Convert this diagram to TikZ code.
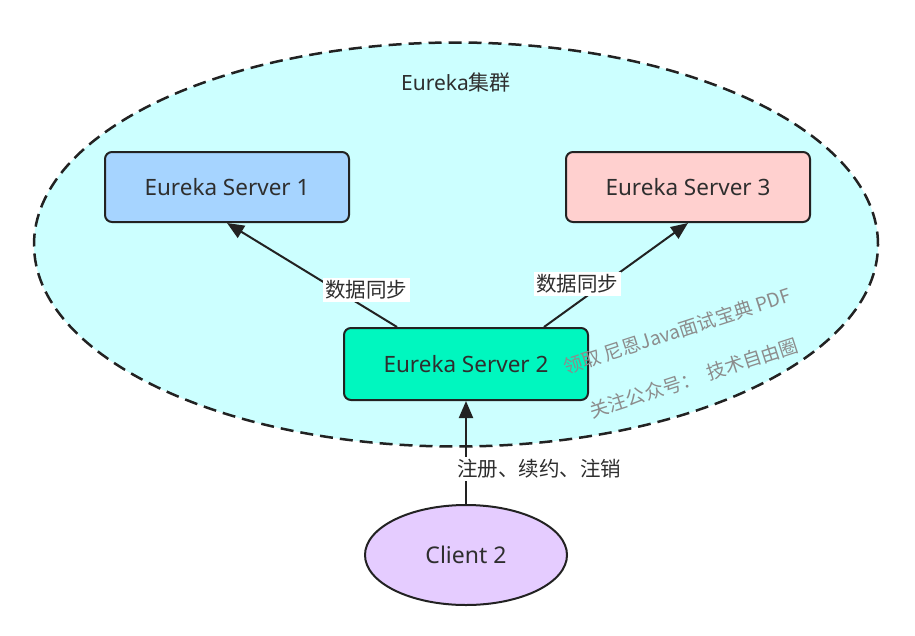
\documentclass[tikz,border=0pt]{standalone}
\usepackage{fontspec}
\setmainfont{Noto Sans}
\newfontfamily\cjk{Noto Sans CJK SC}
\usetikzlibrary{shapes.geometric,arrows.meta}
\definecolor{clusterfill}{HTML}{CCFFFF}
\definecolor{sone}{HTML}{A6D4FF}
\definecolor{sthree}{HTML}{FFD0CF}
\definecolor{stwo}{HTML}{00F7BF}
\definecolor{clientfill}{HTML}{E5CCFF}
\definecolor{ink}{HTML}{2E2E2E}
\definecolor{edge}{HTML}{222222}
\definecolor{wm}{HTML}{8C8C8C}
\tikzset{
  server/.style={draw=edge, line width=2pt, rounded corners=7pt, minimum width=244pt, minimum height=70pt, inner sep=0pt, text=ink, font=\fontsize{22.5}{26}\selectfont},
  arr/.style={draw=edge, line width=2pt, -{Triangle[length=17pt,width=14pt]}},
  lbl/.style={fill=white, inner sep=2.5pt, text=ink, font=\fontsize{20.5}{24}\selectfont\cjk},
  wmark/.style={text=wm, font=\fontsize{19}{22}\selectfont\cjk, rotate=18, inner sep=0pt}
}
\begin{document}
\begin{tikzpicture}[x=1pt,y=-1pt]
\useasboundingbox (0,0) rectangle (915,635);
\node[ellipse, draw=edge, line width=2.5pt, dash pattern=on 13pt off 7pt, fill=clusterfill, minimum width=844pt, minimum height=404pt, inner sep=0pt] (cluster) at (456,244.5) {};
\node[text=ink, font=\fontsize{21}{24}\selectfont] (title) at (456,82) {Eureka{\cjk 集群}};
\node[server, fill=sone] (s1) at (227,187) {Eureka Server 1};
\node[server, fill=sthree] (s3) at (688,187) {Eureka Server 3};
\node[server, fill=stwo, minimum height=72pt] (s2) at (466,364) {Eureka Server 2};
\node[ellipse, draw=edge, line width=2pt, fill=clientfill, minimum width=202pt, minimum height=100pt, inner sep=0pt, text=ink, font=\fontsize{23}{26}\selectfont] (client) at (466,555) {Client 2};
\draw[arr] ([xshift=54pt]s2.north west) -- (s1.south);
\draw[arr] ([xshift=-45pt]s2.north east) -- (s3.south);
\draw[arr] (client.north) -- (s2.south);
\node[lbl] (l1) at (366,290) {数据同步};
\node[lbl] (l2) at (577,284) {数据同步};
\node[lbl] (l3) at (539,469) {注册、续约、注销};
\node[wmark] (w1) at (677,331) {领取 尼恩Java面试宝典 PDF};
\node[wmark] (w2) at (694,378) {关注公众号：\ \ 技术自由圈};
\end{tikzpicture}
\end{document}
